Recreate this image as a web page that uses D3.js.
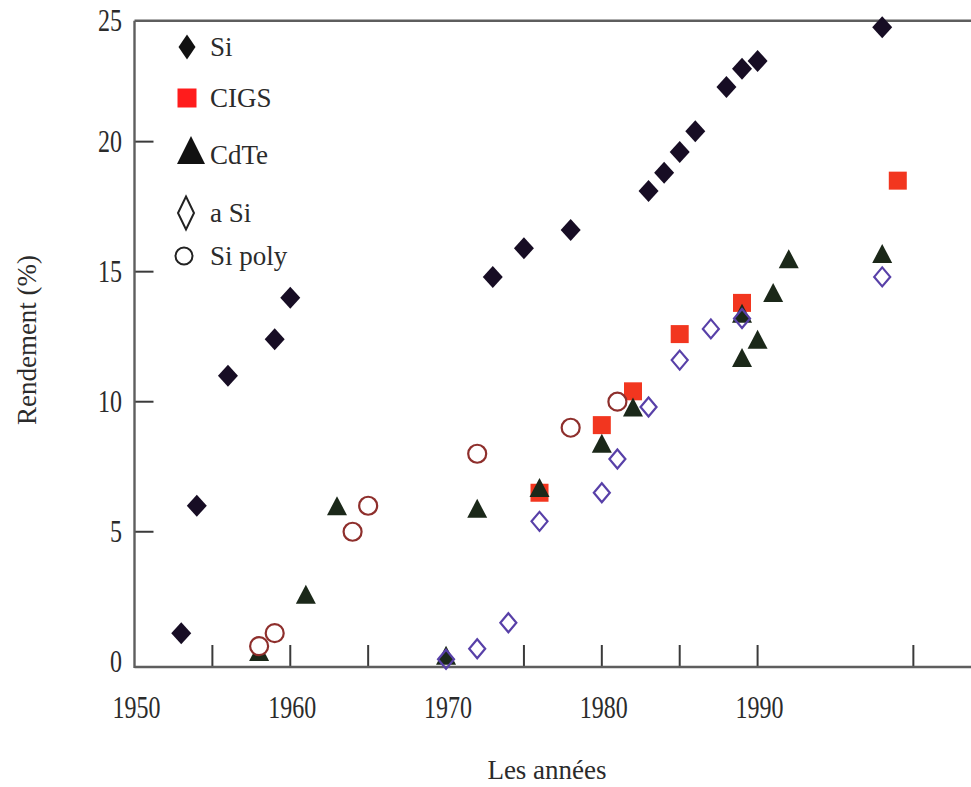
<!DOCTYPE html>
<html>
<head>
<meta charset="utf-8">
<script src="https://cdn.jsdelivr.net/npm/d3@7"></script>
<style>
  html, body { margin: 0; padding: 0; background: #ffffff; }
  svg { display: block; }
  text { font-family: "Liberation Serif", "Times New Roman", serif; fill: #2b2b2b; }
</style>
</head>
<body>
<svg id="chart" width="971" height="787"></svg>
<script>
// Record cell efficiencies by technology (year, efficiency in %)
const siYears   = [1953, 1954, 1956, 1959, 1960, 1973, 1975, 1978, 1983, 1984, 1985, 1986, 1988, 1989, 1990, 1998];
const siValues  = [1.1, 6.0, 11.0, 12.4, 14.0, 14.8, 15.9, 16.6, 18.1, 18.8, 19.6, 20.4, 22.1, 22.8, 23.1, 24.4];

const cigsYears  = [1976, 1980, 1982, 1985, 1989, 1999];
const cigsValues = [6.5, 9.1, 10.4, 12.6, 13.8, 18.5];

const cdteYears  = [1958, 1961, 1963, 1970, 1972, 1976, 1980, 1982, 1989, 1989, 1990, 1991, 1992, 1998];
const cdteValues = [0.4, 2.6, 6.0, 0.25, 5.9, 6.7, 8.4, 9.8, 11.7, 13.4, 12.4, 14.2, 15.5, 15.7];

const aSiYears  = [1970, 1972, 1974, 1976, 1980, 1981, 1983, 1985, 1987, 1989, 1998];
const aSiValues = [0.1, 0.5, 1.5, 5.4, 6.5, 7.8, 9.8, 11.6, 12.8, 13.2, 14.8];

const polyYears  = [1958, 1959, 1964, 1965, 1972, 1978, 1981];
const polyValues = [0.6, 1.1, 5.0, 6.0, 8.0, 9.0, 10.0];

const legendLabels = ["Si", "CIGS", "CdTe", "a Si", "Si poly"];

const xLabelYears = [1950, 1960, 1970, 1980, 1990];
const xTickYears  = [1955, 1960, 1965, 1975, 1980, 1985, 1990, 2000];
const yTickValues = [5, 10, 15, 20];
const yLabelValues = [0, 5, 10, 15, 20, 25];

const xTitle = "Les années";
const yTitle = "Rendement (%)";

// ---------------------------------------------------------------
const svg = d3.select("#chart");
const plotLeft = 134.5, plotRight = 971, plotTop = 20.7, plotBottom = 667;

const x = d3.scaleLinear().domain([1950, 2003.7]).range([plotLeft, plotRight]);
const y = d3.scaleLinear().domain([-0.2, 24.65]).range([plotBottom, plotTop]).clamp(true);

const axisColor = "#5e5e5e";

// tick marks point into the plot
const gTicks = svg.append("g").attr("stroke", "#3a3a3a").attr("stroke-width", 2);
gTicks.selectAll("line.xt").data(xTickYears).join("line")
  .attr("class", "xt")
  .attr("x1", d => x(d)).attr("x2", d => x(d))
  .attr("y1", plotBottom).attr("y2", plotBottom - 22);
gTicks.selectAll("line.yt").data(yTickValues).join("line")
  .attr("class", "yt")
  .attr("x1", plotLeft).attr("x2", plotLeft + 19)
  .attr("y1", d => y(d)).attr("y2", d => y(d));

// frame: left axis, bottom axis, top rule
const gFrame = svg.append("g").attr("stroke", axisColor).attr("stroke-width", 2.4).attr("fill", "none");
gFrame.append("line").attr("x1", plotLeft).attr("x2", plotLeft).attr("y1", plotTop).attr("y2", plotBottom + 1);
gFrame.append("line").attr("x1", plotLeft).attr("x2", plotRight).attr("y1", plotBottom).attr("y2", plotBottom);
gFrame.append("line").attr("x1", plotLeft).attr("x2", plotRight).attr("y1", plotTop).attr("y2", plotTop);

// tick labels (tall serif digits)
const stretch = 1.33;
svg.append("g").selectAll("text").data(xLabelYears).join("text")
  .attr("transform", d => `translate(${x(d) + 2},718) scale(1,${stretch})`)
  .attr("text-anchor", "middle")
  .attr("font-size", 24)
  .text(d => d);
svg.append("g").selectAll("text").data(yLabelValues).join("text")
  .attr("transform", d => `translate(122,${y(d) + 10.5}) scale(1,${stretch})`)
  .attr("text-anchor", "end")
  .attr("font-size", 24)
  .text(d => d);

// axis titles
svg.append("text")
  .attr("x", 547).attr("y", 779)
  .attr("text-anchor", "middle")
  .attr("font-size", 27)
  .text(xTitle);
svg.append("text")
  .attr("transform", "translate(36,340) rotate(-90)")
  .attr("text-anchor", "middle")
  .attr("font-size", 27)
  .text(yTitle);

// marker shapes
const diamond = (w, h) => `M0,${-h/2}L${w/2},0L0,${h/2}L${-w/2},0Z`;
const triangle = (w, h) => `M0,${-h/2}L${w/2},${h/2}L${-w/2},${h/2}Z`;
const square = s => `M${-s/2},${-s/2}h${s}v${s}h${-s}Z`;

const zip = (xs, ys) => xs.map((d, i) => ({ year: d, value: ys[i] }));

const colors = {
  si: "#170d24",
  cigs: "#f2361f",
  cdte: "#1b2819",
  aSi: "#5840a8",
  poly: "#8e2f2c"
};

const gData = svg.append("g");

// Si – filled dark diamonds
gData.append("g").selectAll("path").data(zip(siYears, siValues)).join("path")
  .attr("transform", d => `translate(${x(d.year)},${y(d.value)})`)
  .attr("d", diamond(20, 22))
  .attr("fill", colors.si);

// CIGS – red squares
gData.append("g").selectAll("path").data(zip(cigsYears, cigsValues)).join("path")
  .attr("transform", d => `translate(${x(d.year)},${y(d.value)})`)
  .attr("d", square(18))
  .attr("fill", colors.cigs);

// CdTe – filled triangles
gData.append("g").selectAll("path").data(zip(cdteYears, cdteValues)).join("path")
  .attr("transform", d => `translate(${x(d.year)},${y(d.value)})`)
  .attr("d", triangle(20, 19))
  .attr("fill", colors.cdte);

// amorphous Si – open diamonds
gData.append("g").selectAll("path").data(zip(aSiYears, aSiValues)).join("path")
  .attr("transform", d => `translate(${x(d.year)},${y(d.value)})`)
  .attr("d", diamond(16, 19))
  .attr("fill", "none")
  .attr("stroke", colors.aSi)
  .attr("stroke-width", 2.2);

// polycrystalline Si – open circles
gData.append("g").selectAll("circle").data(zip(polyYears, polyValues)).join("circle")
  .attr("cx", d => x(d.year)).attr("cy", d => y(d.value))
  .attr("r", 9)
  .attr("fill", "#ffffff")
  .attr("stroke", colors.poly)
  .attr("stroke-width", 2.2);

// legend
const legendRows = [47, 98, 155, 213, 256];
const gLeg = svg.append("g");
const lx = 187;
gLeg.append("path").attr("transform", `translate(${lx},${legendRows[0]})`).attr("d", diamond(17, 25)).attr("fill", "#111");
gLeg.append("path").attr("transform", `translate(${lx},${legendRows[1]})`).attr("d", square(19)).attr("fill", "#ff1c1c");
gLeg.append("path").attr("transform", `translate(${lx + 4},${legendRows[2] - 5})`).attr("d", triangle(28, 28)).attr("fill", "#111");
gLeg.append("path").attr("transform", `translate(${lx - 1},${legendRows[3]})`).attr("d", diamond(16, 33))
  .attr("fill", "none").attr("stroke", "#222").attr("stroke-width", 2);
gLeg.append("circle").attr("cx", lx - 3).attr("cy", legendRows[4]).attr("r", 8.5)
  .attr("fill", "none").attr("stroke", "#222").attr("stroke-width", 2);
gLeg.selectAll("text").data(legendLabels).join("text")
  .attr("x", 210)
  .attr("y", (d, i) => legendRows[i] + 9)
  .attr("font-size", 27)
  .text(d => d);
</script>
</body>
</html>
